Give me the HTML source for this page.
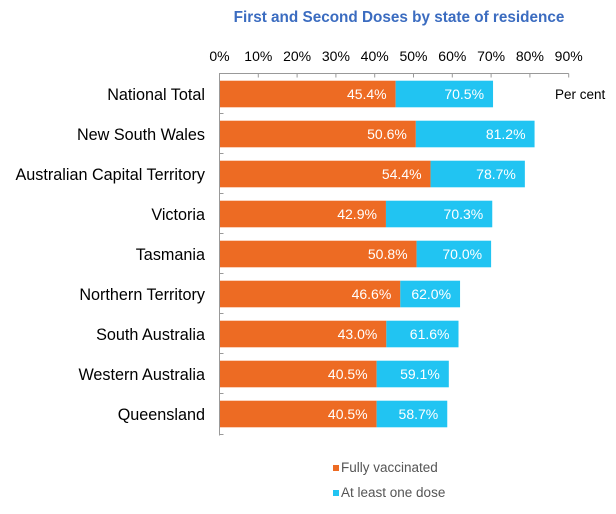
<!DOCTYPE html><html><head><style>body{margin:0;background:#fff}</style></head><body>
<svg width="616" height="509" xmlns="http://www.w3.org/2000/svg" font-family="Liberation Sans, Arial, sans-serif">
<text x="399" y="22" text-anchor="middle" font-size="15.3" font-weight="bold" fill="#3b6cc0">First and Second Doses by state of residence</text>
<g font-size="14" fill="#000" text-anchor="middle">
<text x="219.5" y="61">0%</text><text x="258.3" y="61">10%</text><text x="297.1" y="61">20%</text><text x="335.9" y="61">30%</text><text x="374.7" y="61">40%</text><text x="413.5" y="61">50%</text><text x="452.3" y="61">60%</text><text x="491.1" y="61">70%</text><text x="529.9" y="61">80%</text><text x="568.7" y="61">90%</text>
</g>
<g stroke="#999" stroke-width="1" fill="none">
<path d="M219.5 73.5H568.7M219.5 73V435.5"/>
<path d="M258.3 73.5v4M297.1 73.5v4M335.9 73.5v4M374.7 73.5v4M413.5 73.5v4M452.3 73.5v4M491.1 73.5v4M529.9 73.5v4M568.7 73.5v4"/>
<path d="M219.5 113.5h4M219.5 153.5h4M219.5 193.5h4M219.5 233.5h4M219.5 273.5h4M219.5 313.5h4M219.5 353.5h4M219.5 393.5h4M219.5 434.5h4"/>
</g>
<text x="555" y="99" font-size="13.5" fill="#000">Per cent</text>
<g font-size="16.2" fill="#000" text-anchor="end">
<text x="205" y="99.8">National Total</text>
<text x="205" y="139.8">New South Wales</text>
<text x="205" y="179.8">Australian Capital Territory</text>
<text x="205" y="219.8">Victoria</text>
<text x="205" y="259.8">Tasmania</text>
<text x="205" y="299.8">Northern Territory</text>
<text x="205" y="339.8">South Australia</text>
<text x="205" y="379.8">Western Australia</text>
<text x="205" y="419.8">Queensland</text>
</g>
<g fill="#ed6b23">
<rect x="220" y="80.7" width="175.65" height="26.6"/>
<rect x="220" y="120.7" width="195.83" height="26.6"/>
<rect x="220" y="160.7" width="210.57" height="26.6"/>
<rect x="220" y="200.7" width="165.95" height="26.6"/>
<rect x="220" y="240.7" width="196.6" height="26.6"/>
<rect x="220" y="280.7" width="180.31" height="26.6"/>
<rect x="220" y="320.7" width="166.34" height="26.6"/>
<rect x="220" y="360.7" width="156.64" height="26.6"/>
<rect x="220" y="400.7" width="156.64" height="26.6"/>
</g>
<g fill="#21c4f2">
<rect x="395.65" y="80.7" width="97.39" height="26.6"/>
<rect x="415.83" y="120.7" width="118.73" height="26.6"/>
<rect x="430.57" y="160.7" width="94.29" height="26.6"/>
<rect x="385.95" y="200.7" width="106.31" height="26.6"/>
<rect x="416.6" y="240.7" width="74.5" height="26.6"/>
<rect x="400.31" y="280.7" width="59.75" height="26.6"/>
<rect x="386.34" y="320.7" width="72.17" height="26.6"/>
<rect x="376.64" y="360.7" width="72.17" height="26.6"/>
<rect x="376.64" y="400.7" width="70.62" height="26.6"/>
</g>
<g font-size="14" fill="#fff" text-anchor="end">
<text x="386.65" y="99">45.4%</text><text x="484.04" y="99">70.5%</text>
<text x="406.83" y="139">50.6%</text><text x="525.56" y="139">81.2%</text>
<text x="421.57" y="179">54.4%</text><text x="515.86" y="179">78.7%</text>
<text x="376.95" y="219">42.9%</text><text x="483.26" y="219">70.3%</text>
<text x="407.6" y="259">50.8%</text><text x="482.1" y="259">70.0%</text>
<text x="391.31" y="299">46.6%</text><text x="451.06" y="299">62.0%</text>
<text x="377.34" y="339">43.0%</text><text x="449.51" y="339">61.6%</text>
<text x="367.64" y="379">40.5%</text><text x="439.81" y="379">59.1%</text>
<text x="367.64" y="419">40.5%</text><text x="438.26" y="419">58.7%</text>
</g>
<rect x="333" y="465" width="6" height="6" fill="#ed6b23"/><text x="341" y="472" font-size="13.5" fill="#555">Fully vaccinated</text>
<rect x="333" y="490" width="6" height="6" fill="#21c4f2"/><text x="341" y="497" font-size="13.5" fill="#555">At least one dose</text>
</svg></body></html>
